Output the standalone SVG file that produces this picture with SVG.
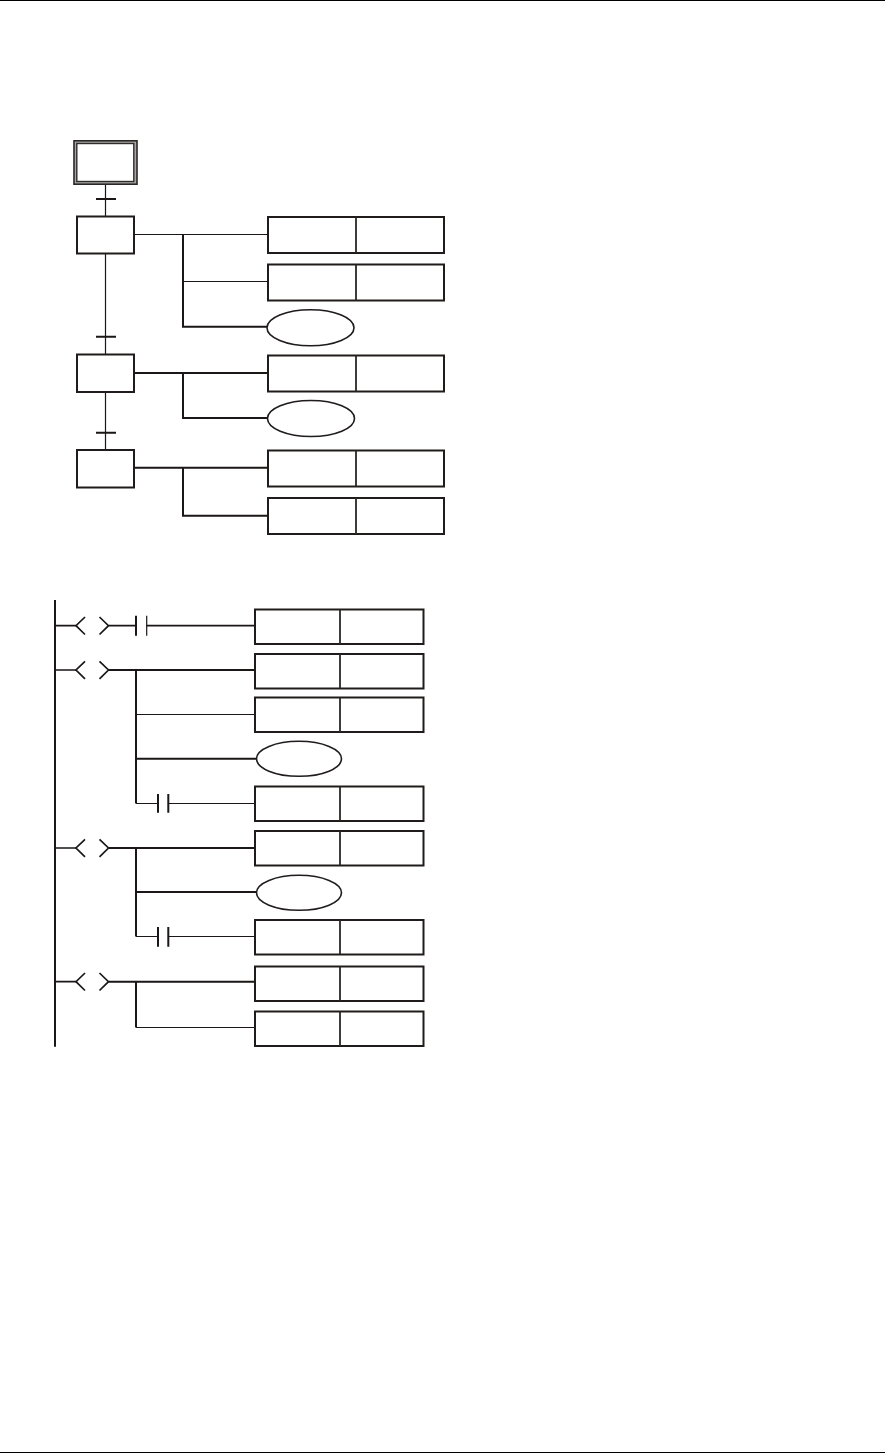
<svg xmlns="http://www.w3.org/2000/svg" width="885" height="1453" viewBox="0 0 885 1453">
<style>
.w{stroke:#1a1716;fill:none;stroke-linecap:butt}
.t{stroke-width:1.2}
.m{stroke-width:1.7}
.k{stroke-width:2}
.b{fill:#fff;stroke:#1f1c1b;stroke-width:2}
.d{fill:none;stroke:#2a2726;stroke-width:1.8}
.e{fill:#fff;stroke:#1f1c1b;stroke-width:1.6}
</style>
<defs>
<g id="pair"><rect class="b" x="0" y="0" width="176" height="36"/><line class="d" x1="88" y1="0" x2="88" y2="36"/></g>
<g id="pair2"><rect class="b" x="0" y="0" width="168.500" height="34.500"/><line class="d" x1="85" y1="0" x2="85" y2="34.500"/></g>
<g id="chev"><path class="w m" d="M85 617L76 625.700L85 634.500M99.500 617L108.500 625.700L99.500 634.500"/></g>
</defs>
<rect width="885" height="1453" fill="#fff"/>
<rect id="page-top" x="0" y="0" width="885" height="1" fill="#000"/>
<rect id="page-bottom" x="0" y="1452" width="885" height="1" fill="#000"/>

<g id="connectors">
<!-- SFC -->
<path class="w t" d="M105.500 184V216M105.500 254V354M105.500 392V449.500"/>
<path class="w k" d="M96 199H116M96 336.700H116M96 432.700H116"/>
<path class="w t" d="M134 234.500H268M183 281.500H268"/>
<path class="w k" d="M183 234.500V326.700H267"/>
<path class="w k" d="M134 373H268M183 373V418H267"/>
<path class="w k" d="M134 467.700H268M183 467.700V515.700H268"/>
<!-- Ladder -->
<path class="w k" d="M55 600V1046.700"/>
<path class="w m" d="M55 625.700H76M108.500 625.700H136M146.700 625.700H255"/>
<path class="w k" d="M136 615.700V635.700"/>
<path class="w t" d="M146.700 615.700V635.700"/>
<path class="w m" d="M55 670H76M55 848H76M55 981.700H76"/>
<path class="w k" d="M108.500 670H255M136 670V803.500M136 758.700H257"/>
<path class="w t" d="M136 714.500H255M136 803.500H158M168.300 803.500H255"/>
<path class="w k" d="M158 794V812.700M168.300 794V812.700"/>
<path class="w k" d="M108.500 848H255M136 848V936.500M136 892H257"/>
<path class="w t" d="M136 936.500H158M168.300 936.500H255"/>
<path class="w k" d="M158 927V946.700M168.300 927V946.700"/>
<path class="w k" d="M108.500 981.700H255M136 981.700V1027.500"/>
<path class="w t" d="M136 1027.500H255"/>
<use href="#chev"/>
<use href="#chev" y="44.300"/>
<use href="#chev" y="222.300"/>
<use href="#chev" y="356"/>
</g>

<g id="step-initial">
<rect x="74" y="140.800" width="63" height="43.400" fill="#a8a6a5" stroke="#2a2726" stroke-width="1.6"/>
<rect x="76.800" y="143.500" width="57" height="38" fill="#fff" stroke="#2f2c2b" stroke-width="1.4"/>
</g>
<g id="step-1"><rect class="b" x="77" y="216.500" width="57" height="37"/></g>
<g id="step-2"><rect class="b" x="77" y="354.500" width="57" height="37.500"/></g>
<g id="step-3"><rect class="b" x="77" y="450" width="57" height="37.500"/></g>

<g id="action-1"><use href="#pair" x="268" y="217"/></g>
<g id="action-2"><use href="#pair" x="268" y="264.500"/></g>
<g id="event-1"><ellipse class="e" cx="310.500" cy="327.700" rx="43.500" ry="18"/></g>
<g id="action-3"><use href="#pair" x="268" y="355.500"/></g>
<g id="event-2"><ellipse class="e" cx="311" cy="418.500" rx="43.500" ry="18"/></g>
<g id="action-4"><use href="#pair" x="268" y="450.500"/></g>
<g id="action-5"><use href="#pair" x="268" y="498"/></g>

<g id="rung-1"><use href="#pair2" x="255" y="609.500"/></g>
<g id="rung-2"><use href="#pair2" x="255" y="654"/></g>
<g id="rung-3"><use href="#pair2" x="255" y="697.500"/></g>
<g id="rung-ellipse-1"><ellipse class="e" cx="299" cy="758.800" rx="42.500" ry="17.500"/></g>
<g id="rung-4"><use href="#pair2" x="255" y="786.500"/></g>
<g id="rung-5"><use href="#pair2" x="255" y="831"/></g>
<g id="rung-ellipse-2"><ellipse class="e" cx="299" cy="892.800" rx="42.500" ry="17.500"/></g>
<g id="rung-6"><use href="#pair2" x="255" y="920"/></g>
<g id="rung-7"><use href="#pair2" x="255" y="966.500"/></g>
<g id="rung-8"><use href="#pair2" x="255" y="1011.500"/></g>
</svg>
